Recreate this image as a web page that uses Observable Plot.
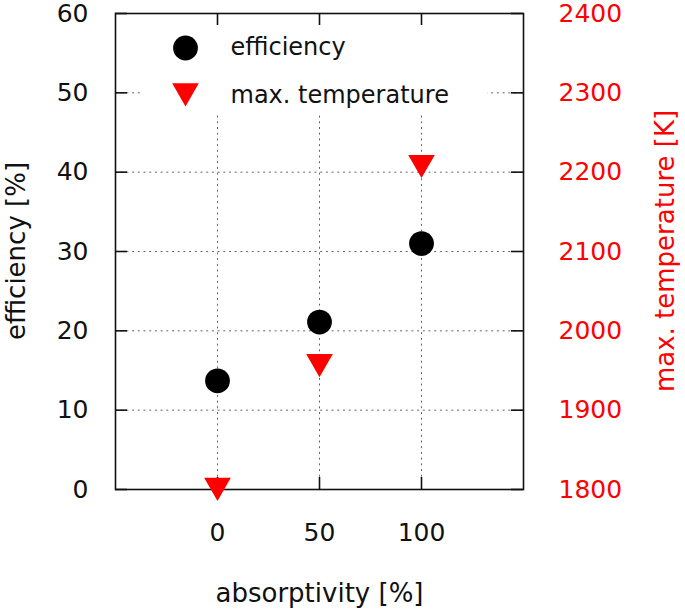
<!DOCTYPE html>
<html>
<head>
<meta charset="utf-8">
<script src="https://cdn.jsdelivr.net/npm/d3@7"></script>
<script src="https://cdn.jsdelivr.net/npm/@observablehq/plot@0.6"></script>
<style>
  html, body { margin: 0; padding: 0; background: white; }
  #chart svg { display: block; }
</style>
</head>
<body>
<div id="chart"></div>
<script>
// ---- data ----
const absorptivity = [0, 50, 100];              // x categories [%]
const efficiency = [13.7, 21.1, 31.0];          // left axis [%]
const maxTemperature = [1805, 1961, 2212];      // right axis [K]
const xTicks = [0, 50, 100];
const effTicks = [0, 10, 20, 30, 40, 50, 60];
const tempTicks = [1800, 1900, 2000, 2100, 2200, 2300, 2400];
const seriesNames = ["efficiency", "max. temperature"];
const xTitle = "absorptivity [%]";
const yTitle = "efficiency [%]";
const y2Title = "max. temperature [K]";

// right-axis mapping onto the left scale (1800..2400 K  <->  0..60 %)
const T0 = tempTicks[0], TSTEP = (tempTicks[tempTicks.length - 1] - tempTicks[0]) / (effTicks[effTicks.length - 1] - effTicks[0]);
const toY = (t) => (t - T0) / TSTEP;

const effData = absorptivity.map((a, i) => ({x: a, y: efficiency[i]}));
const tempData = absorptivity.map((a, i) => ({x: a, y: toY(maxTemperature[i])}));

const FONT = "DejaVu Sans, Liberation Sans, Arial, sans-serif";
const gridStyle = {stroke: "#666", strokeOpacity: 1, strokeWidth: 1, strokeDasharray: "2,3.7"};
const TICK = 12;

// rotated side titles, placed relative to the frame
function sideTitle(label, side, offset, fill) {
  return (index, scales, values, dims) => {
    const {width, height, marginLeft, marginRight, marginTop, marginBottom} = dims;
    const cy = (marginTop + height - marginBottom) / 2;
    const cx = side === "left" ? marginLeft - offset : width - marginRight + offset;
    return d3.create("svg:text")
      .attr("transform", `translate(${cx},${cy}) rotate(-90)`)
      .attr("text-anchor", "middle")
      .attr("dy", "0.32em")
      .attr("font-size", 26)
      .attr("font-family", FONT)
      .attr("fill", fill)
      .text(label)
      .node();
  };
}

const chart = Plot.plot({
  width: 685,
  height: 611,
  marginLeft: 115,
  marginRight: 162,
  marginTop: 13,
  marginBottom: 122,
  x: {domain: [-50, 150], label: null},
  y: {domain: [effTicks[0], effTicks[effTicks.length - 1]], label: null},
  style: {fontFamily: FONT, background: "white", color: "#111"},
  marks: [
    // dotted grid
    Plot.gridX(xTicks, gridStyle),
    Plot.gridY(effTicks.slice(1, -1), gridStyle),
    // opaque legend box
    Plot.frame({fill: "white", stroke: "none", insetLeft: 25.5, insetRight: 36, insetBottom: 377}),
    // border
    Plot.frame({stroke: "#111", strokeWidth: 1.6}),
    // inward ticks
    Plot.tickX(xTicks, {x: (d) => d, insetTop: 476 - TICK, stroke: "#111", strokeWidth: 1.6}),
    Plot.tickX(xTicks, {x: (d) => d, insetBottom: 476 - TICK, stroke: "#111", strokeWidth: 1.6}),
    Plot.tickY(effTicks, {y: (d) => d, insetRight: 408 - TICK, stroke: "#111", strokeWidth: 1.6}),
    Plot.tickY(tempTicks.map(toY), {y: (d) => d, insetLeft: 408 - TICK, stroke: "#111", strokeWidth: 1.6}),
    // tick labels
    Plot.axisX(xTicks, {anchor: "bottom", tickSize: 0, tickPadding: 34, fontSize: 25, label: null}),
    Plot.axisY(effTicks, {anchor: "left", tickSize: 0, tickPadding: 27, fontSize: 25, label: null}),
    Plot.axisY(tempTicks.map(toY), {anchor: "right", tickSize: 0, tickPadding: 35, fontSize: 25, label: null,
      fill: "#ff0000", tickFormat: (v) => String(tempTicks[tempTicks.map(toY).indexOf(v)])}),
    // axis titles
    Plot.text([xTitle], {text: (d) => d, frameAnchor: "bottom", dy: 94, lineAnchor: "top", fontSize: 26, fill: "#111"}),
    sideTitle(yTitle, "left", 98.5, "#111"),
    sideTitle(y2Title, "right", 143, "#ff0000"),
    // data
    Plot.dot(effData, {x: "x", y: "y", r: 12.4, fill: "#000", stroke: "none", symbol: "circle"}),
    Plot.dot(tempData, {x: "x", y: "y", r: 9.9, fill: "#ff0000", stroke: "none", symbol: "triangle", rotate: 180}),
    // legend
    Plot.dot([seriesNames[0]], {frameAnchor: "top-left", dx: 70, dy: 34.5, r: 12.4, fill: "#000", stroke: "none", symbol: "circle"}),
    Plot.dot([seriesNames[1]], {frameAnchor: "top-left", dx: 70, dy: 77.5, r: 9.9, fill: "#ff0000", stroke: "none", symbol: "triangle", rotate: 180}),
    Plot.text([seriesNames[0]], {text: (d) => d, frameAnchor: "top-left", dx: 115, dy: 34.3, textAnchor: "start", lineAnchor: "middle", fontSize: 24, fill: "#111"}),
    Plot.text([seriesNames[1]], {text: (d) => d, frameAnchor: "top-left", dx: 115, dy: 82.3, textAnchor: "start", lineAnchor: "middle", fontSize: 24, fill: "#111"})
  ]
});
document.getElementById("chart").appendChild(chart);
</script>
</body>
</html>
